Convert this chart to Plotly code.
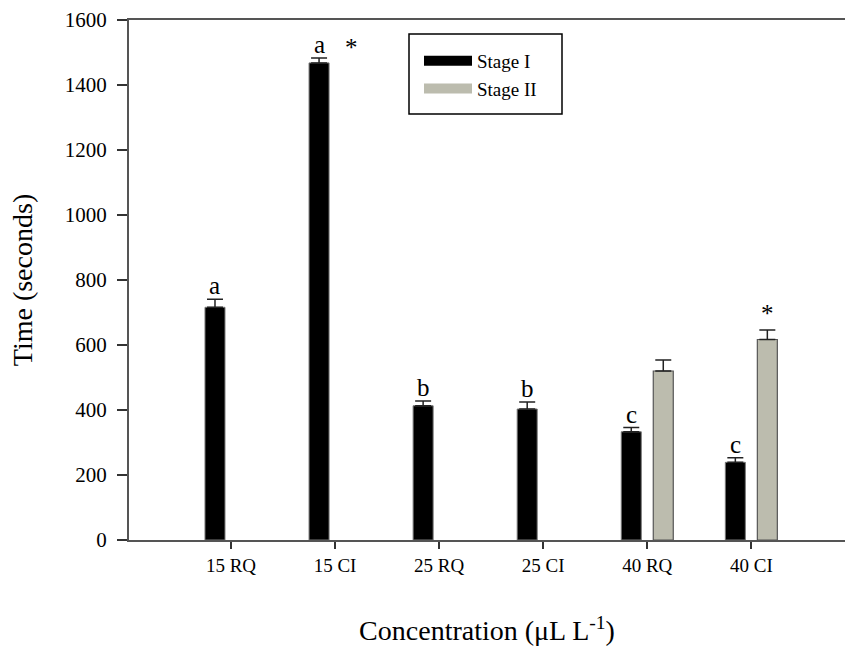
import plotly.graph_objects as go

categories = ["15 RQ", "15 CI", "25 RQ", "25 CI", "40 RQ", "40 CI"]
stage1 = [716, 1468, 413, 403, 333, 239]
stage1_err = [25, 15, 15, 22, 13, 14]
stage2 = [None, None, None, None, 520, 617]
stage2_err = [0, 0, 0, 0, 34, 29]
letters = ["a", "a", "b", "b", "c", "c"]

FONT = "Liberation Serif, Times New Roman, serif"
BAR_OFF = 0.154
S1_COLOR = "black"
S2_COLOR = "#bcbcae"

fig = go.Figure()
fig.add_trace(go.Bar(
    name="Stage I", x=categories, y=stage1, showlegend=False, legendgroup="s1",
    marker=dict(color=S1_COLOR, line=dict(color="#777777", width=1)),
    error_y=dict(type="data", array=stage1_err, arrayminus=[0]*6, symmetric=False, color="#222222", thickness=1.5, width=8),
))
fig.add_trace(go.Bar(
    name="Stage II", x=categories, y=stage2, showlegend=False, legendgroup="s2",
    marker=dict(color=S2_COLOR, line=dict(color="#555555", width=1.2)),
    error_y=dict(type="data", array=stage2_err, arrayminus=[0]*6, symmetric=False, color="#222222", thickness=1.5, width=8),
))
# legend-only entries with wide swatches
fig.add_trace(go.Scatter(x=[None], y=[None], mode="lines", name="Stage I", legendgroup="s1",
                         line=dict(color=S1_COLOR, width=15)))
fig.add_trace(go.Scatter(x=[None], y=[None], mode="lines", name="Stage II", legendgroup="s2",
                         line=dict(color=S2_COLOR, width=15)))

ann = []
for i, (v, e, t) in enumerate(zip(stage1, stage1_err, letters)):
    ann.append(dict(x=i - BAR_OFF, y=v + e, xref="x", yref="y", text=t, showarrow=False,
                    yanchor="bottom", yshift=-2, font=dict(family=FONT, size=25, color="black")))
ann.append(dict(x=1 + BAR_OFF, y=stage1[1] + stage1_err[1], xref="x", yref="y", text="*", showarrow=False,
                yanchor="bottom", yshift=-5, font=dict(family=FONT, size=25, color="black")))
ann.append(dict(x=5 + BAR_OFF, y=stage2[5] + stage2_err[5], xref="x", yref="y", text="*", showarrow=False,
                yanchor="bottom", yshift=1, font=dict(family=FONT, size=25, color="black")))

L, T, B = 129, 20, 120
pw, ph = 845 - L, 660 - T - B

def px_x(x):
    return (x - L) / pw

def px_y(y):
    return 1 - (y - T) / ph

fig.update_layout(
    width=845, height=660,
    margin=dict(l=L, r=0, t=T, b=B),
    paper_bgcolor="white", plot_bgcolor="white",
    barmode="group", bargap=0.385, bargroupgap=0.375,
    font=dict(family=FONT, size=18, color="black"),
    annotations=ann,
    showlegend=True,
    legend=dict(x=px_x(419), y=px_y(42), xanchor="left", yanchor="top", bgcolor="rgba(0,0,0,0)",
                borderwidth=0, font=dict(family=FONT, size=19), itemwidth=48,
                tracegroupgap=0, itemclick=False),
    shapes=[dict(type="rect", xref="paper", yref="paper", x0=px_x(409), x1=px_x(562),
                 y0=px_y(114), y1=px_y(34), line=dict(color="black", width=1.5), fillcolor="rgba(0,0,0,0)")],
)

fig.update_xaxes(
    range=[-0.98, 5.9], showline=True, linecolor="#555555", linewidth=2, mirror=True,
    ticks="outside", ticklen=7, tickcolor="#333333", tickwidth=1.5,
    tickfont=dict(family=FONT, size=19), ticklabelstandoff=0,
    title=dict(text="Concentration (μL L<sup>-1</sup>)", font=dict(family=FONT, size=28), standoff=46),
    showgrid=False, zeroline=False,
)
fig.update_yaxes(
    range=[0, 1600], dtick=200, showline=True, linecolor="#555555", linewidth=2,
    ticks="outside", ticklen=10, tickcolor="#333333", tickwidth=1.5,
    tickfont=dict(family=FONT, size=21), ticklabelstandoff=6,
    title=dict(text="Time (seconds)", font=dict(family=FONT, size=28), standoff=24),
    showgrid=False, zeroline=False,
)

fig.write_html("out.html")
